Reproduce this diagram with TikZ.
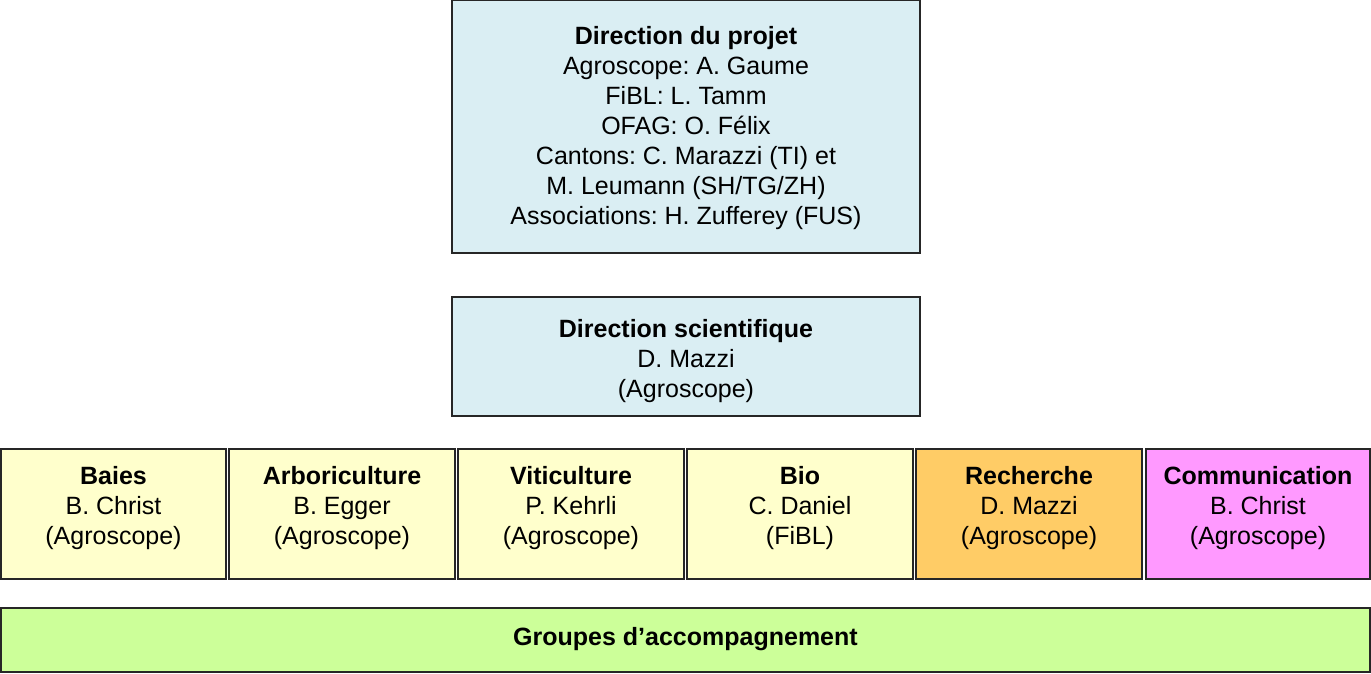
\documentclass[tikz,border=0pt]{standalone}
\usepackage{fontspec}
\setmainfont{Liberation Sans}
\frenchspacing
\definecolor{cblue}{HTML}{DAEEF3}
\definecolor{cyel}{HTML}{FFFFCC}
\definecolor{corange}{HTML}{FFCC66}
\definecolor{cpink}{HTML}{FF99FF}
\definecolor{cgreen}{HTML}{CCFF99}
\begin{document}
\begin{tikzpicture}[x=1pt,y=1pt,
  box/.style={draw=black!85,line width=1.2pt,inner sep=0pt},
  txt/.style={align=center,font=\fontsize{25}{30}\selectfont,inner sep=0pt}]
\useasboundingbox (0,0) rectangle (1371,673);
% top
\path[box,fill=cblue] (452,673) rectangle (920,420);
\node[txt] (dp) at (686,545) {\textbf{Direction du projet}\\Agroscope: A. Gaume\\FiBL: L. Tamm\\OFAG: O. Félix\\Cantons: C. Marazzi (TI) et\\M. Leumann (SH/TG/ZH)\\Associations: H. Zufferey (FUS)};
% second
\path[box,fill=cblue] (452,376) rectangle (920,257);
\node[txt] (ds) at (686,311.5) {\textbf{Direction scientifique}\\D. Mazzi\\(Agroscope)};
% row
\foreach \xl/\xr/\col/\nm/\t in {
 1/226/cyel/baies/{\textbf{Baies}\\B. Christ\\(Agroscope)},
 229/455/cyel/arbo/{\textbf{Arboriculture}\\B. Egger\\(Agroscope)},
 458/684/cyel/viti/{\textbf{Viticulture}\\P. Kehrli\\(Agroscope)},
 687/913/cyel/bio/{\textbf{Bio}\\C. Daniel\\(FiBL)},
 916/1142/corange/rech/{\textbf{Recherche}\\D. Mazzi\\(Agroscope)},
 1146/1370/cpink/comm/{\textbf{Communication}\\B. Christ\\(Agroscope)}}{
  \path[box,fill=\col] (\xl,224) rectangle (\xr,94);
  \node[txt] (\nm) at ({(\xl+\xr)/2},164.5) {\t};
}
% bottom
\path[box,fill=cgreen] (1,65) rectangle (1370,1);
\node[txt] (ga) at (685.5,33.5) {\textbf{Groupes d’accompagnement}};
\end{tikzpicture}
\end{document}
